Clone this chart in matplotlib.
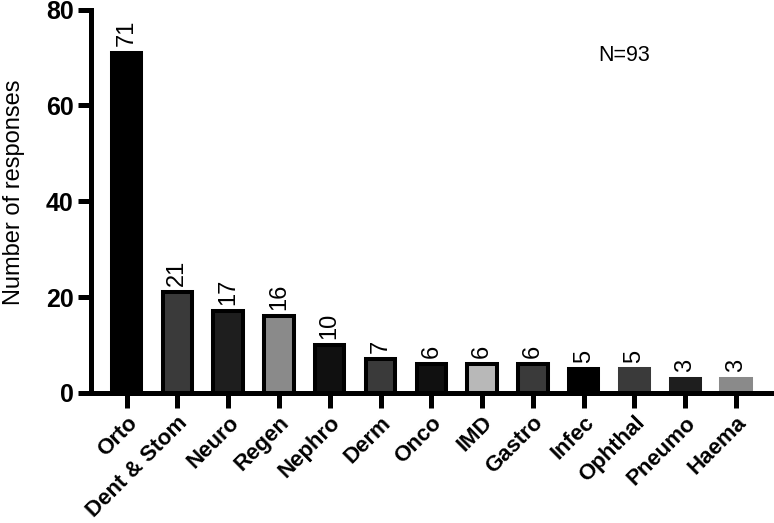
import numpy as np
import matplotlib.pyplot as plt

plt.rcParams['font.family'] = ['Liberation Sans', 'DejaVu Sans']

categories = ['Orto', 'Dent & Stom', 'Neuro', 'Regen', 'Nephro', 'Derm', 'Onco',
              'IMD', 'Gastro', 'Infec', 'Ophthal', 'Pneumo', 'Haema']
responses = [71, 21, 17, 16, 10, 7, 6, 6, 6, 5, 5, 3, 3]
fills = ['#000000', '#3a3a3a', '#1e1e1e', '#8a8a8a', '#101010', '#3a3a3a', '#101010',
         '#b8b8b8', '#3a3a3a', '#000000', '#3a3a3a', '#1e1e1e', '#8a8a8a']
edges = ['#000000'] * 9 + fills[9:]

fig = plt.figure(figsize=(7.74, 5.23), dpi=100)
ax = fig.add_axes([0.1176, 0.2486, 0.8786, 0.7332])

x = np.arange(len(categories))
ax.bar(x, responses, width=0.58, color=fills, edgecolor=edges, linewidth=2.9)

for xi, v in zip(x, responses):
    ax.text(xi, v + 1.3, str(v), rotation=90, ha='center', va='bottom', fontsize=17)

ax.text(9.8, 70.5, 'N=93', fontsize=15.5, ha='center', va='center')

ax.set_xlim(-0.7, 12.69)
ax.set_ylim(0, 80)
ax.set_yticks([0, 20, 40, 60, 80])
ax.set_xticks(x)
ax.set_xticklabels(categories, rotation=45, ha='right', rotation_mode='anchor',
                   fontsize=16, fontweight='bold')
for lab in ax.get_yticklabels():
    lab.set_fontweight('bold')
    lab.set_fontsize(18)
ax.set_ylabel('Number of responses', fontsize=17)
ax.yaxis.set_label_coords(-0.097, 0.524)

for s in ['top', 'right']:
    ax.spines[s].set_visible(False)
for s in ['left', 'bottom']:
    ax.spines[s].set_linewidth(3.6)
ax.tick_params(axis='y', width=3.6, length=9.5, pad=3)
ax.tick_params(axis='x', width=3.6, length=11, pad=3)

fig.savefig('out.png', dpi=100)
